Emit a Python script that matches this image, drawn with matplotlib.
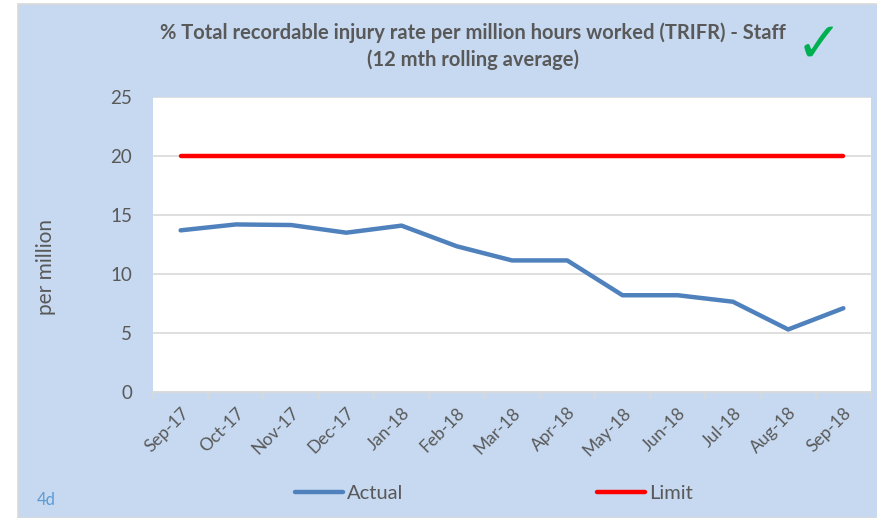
import matplotlib.pyplot as plt
from matplotlib.patches import Rectangle

months = ['Sep-17', 'Oct-17', 'Nov-17', 'Dec-17', 'Jan-18', 'Feb-18', 'Mar-18',
          'Apr-18', 'May-18', 'Jun-18', 'Jul-18', 'Aug-18', 'Sep-18']
actual = [13.7, 14.2, 14.15, 13.5, 14.1, 12.35, 11.15, 11.15, 8.2, 8.2, 7.65, 5.3, 7.1]
limit = [20] * 13

text_grey = '#595959'
grid_grey = '#D9D9D9'
plt.rcParams['font.family'] = ['Lato', 'DejaVu Sans']

fig = plt.figure(figsize=(8.78, 5.18), dpi=100)
fig.patch.set_facecolor('white')
# light blue panel behind everything
fig.patches.append(Rectangle((18 / 878, 0), 1 - 18 / 878, 1 - 4 / 518, transform=fig.transFigure,
                             facecolor='#C6D9F0', edgecolor=grid_grey, linewidth=1.2, zorder=-10))

ax = fig.add_axes([153 / 878, 1 - 392 / 518, 718 / 878, 295 / 518])
ax.set_zorder(1)
ax.set_facecolor('white')
x = list(range(len(months)))
ax.plot(x, actual, color='#4F81BD', linewidth=3.2, label='Actual', solid_capstyle='round', zorder=3)
ax.plot(x, limit, color='#FF0000', linewidth=3.2, label='Limit', solid_capstyle='round', zorder=3)

ax.set_xlim(-0.5, len(months) - 0.5)
ax.set_ylim(0, 25)
ax.set_yticks([0, 5, 10, 15, 20, 25])
ax.yaxis.grid(True, color=grid_grey, linewidth=1.2)
ax.set_axisbelow(True)
for s in ['left', 'right', 'top']:
    ax.spines[s].set_visible(False)
ax.spines['bottom'].set_color(grid_grey)
ax.spines['bottom'].set_linewidth(1.2)

ax.set_xticks(x)
ax.set_xticklabels(months, rotation=45, ha='right', rotation_mode='anchor')
ax.set_xticks([i - 0.5 for i in range(len(months) + 1)], minor=True)
ax.tick_params(axis='x', which='major', length=0, pad=9, labelsize=12.5, labelcolor=text_grey)
ax.tick_params(axis='x', which='minor', length=5, color=grid_grey, width=1.2)
ax.tick_params(axis='y', length=0, pad=15, labelsize=13.5, labelcolor=text_grey)

fig.text(46 / 878, 1 - 267 / 518, 'per million', rotation=90, ha='center', va='center',
         fontsize=15, color=text_grey)
fig.text(473 / 878, 1 - 33 / 518, '% Total recordable injury rate per million hours worked (TRIFR) - Staff',
         ha='center', va='center', fontsize=14.5, fontweight='bold', color=text_grey)
fig.text(473 / 878, 1 - 60 / 518, '(12 mth rolling average)',
         ha='center', va='center', fontsize=14.5, fontweight='bold', color=text_grey)
fig.text(819 / 878, 1 - 47 / 518, '\u2713', ha='center', va='center', fontsize=40,
         color='#00B050', family='DejaVu Sans')
fig.text(37 / 878, 1 - 500 / 518, '4d', ha='left', va='center', fontsize=12, color='#5B9BD5')

fig.legend(loc='center', bbox_to_anchor=(494 / 878, 1 - 493 / 518), ncol=2, frameon=False,
           handlelength=2.4, handletextpad=0.2, columnspacing=9.6, fontsize=14.5,
           labelcolor=text_grey)

fig.savefig('out.png', dpi=100)
